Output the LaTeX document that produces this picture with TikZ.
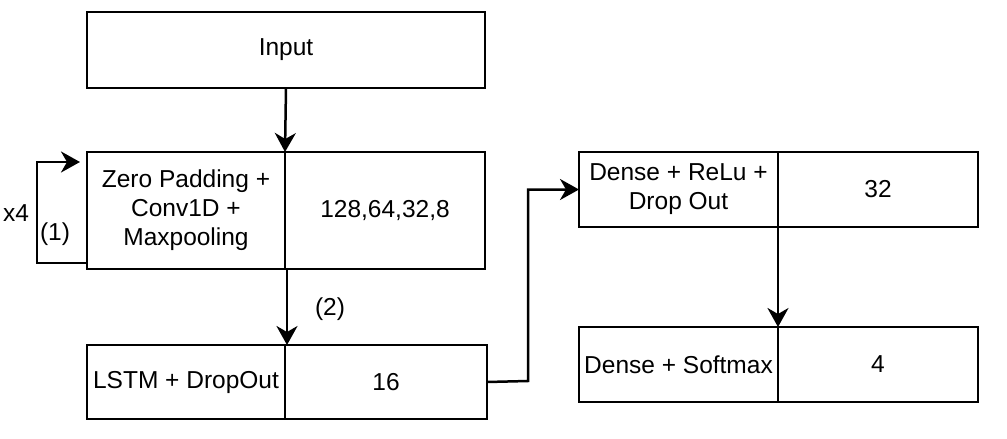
\documentclass[tikz,border=0pt]{standalone}
\usepackage{fontspec}
\setmainfont{Liberation Sans}
\usepackage{tikz}
\usetikzlibrary{arrows.meta,positioning}

\begin{document}
\begin{tikzpicture}[x=1pt,y=-1pt,line width=2.5pt,
    font=\fontsize{24.5}{29}\selectfont,
    layer/.style={draw,rectangle,inner sep=0pt,outer sep=0pt,align=center,minimum height=#1},
    arr/.style={-{Stealth[length=19pt,width=21pt,inset=6pt]}}]
        \useasboundingbox (0,0) rectangle (1007,439);
        % input
        \node[layer=76pt,minimum width=398pt] (input) at (286,50) {Input};
        % conv block
        \node[layer=117pt,minimum width=198pt] (conv) at (186,210.5)
          {Zero Padding +\\Conv1D +\\Maxpooling};
        \node[layer=117pt,minimum width=200pt,right=0pt of conv] (convn) {128,64,32,8};
        % lstm
        \node[layer=74pt,minimum width=198pt] (lstm) at (186,382) {LSTM + DropOut};
        \node[layer=74pt,minimum width=202pt,right=0pt of lstm] (lstmn) {16};
        % dense
        \node[layer=75pt,minimum width=199pt] (relu) at (678.5,189.5)
          {Dense + ReLu +\\Drop Out};
        \node[layer=75pt,minimum width=200pt,right=0pt of relu] (relun) {32};
        \node[layer=75pt,minimum width=199pt] (soft) at (678.5,364.5) {Dense + Softmax};
        \node[layer=75pt,minimum width=200pt,right=0pt of soft] (softn) {4};

        \coordinate (loopin) at (80,162);
        \draw[arr] (input.south) -- (conv.north east);
        \draw[arr] ([yshift=6pt]conv.south west) -| (37,162) -- (loopin);
        \node (times) at (16,213) {x4};
        \node (one) at (55,234) {(1)};
        \draw[arr] ([xshift=2pt]conv.south east) -- ([xshift=2pt]lstm.north east);
        \node (two) at (330,309) {(2)};
        \draw[arr] (lstmn.east) -- (528,381) |- (relu.west);
        \draw[arr] (relu.south east) -- (soft.north east);
\end{tikzpicture}
\end{document}
